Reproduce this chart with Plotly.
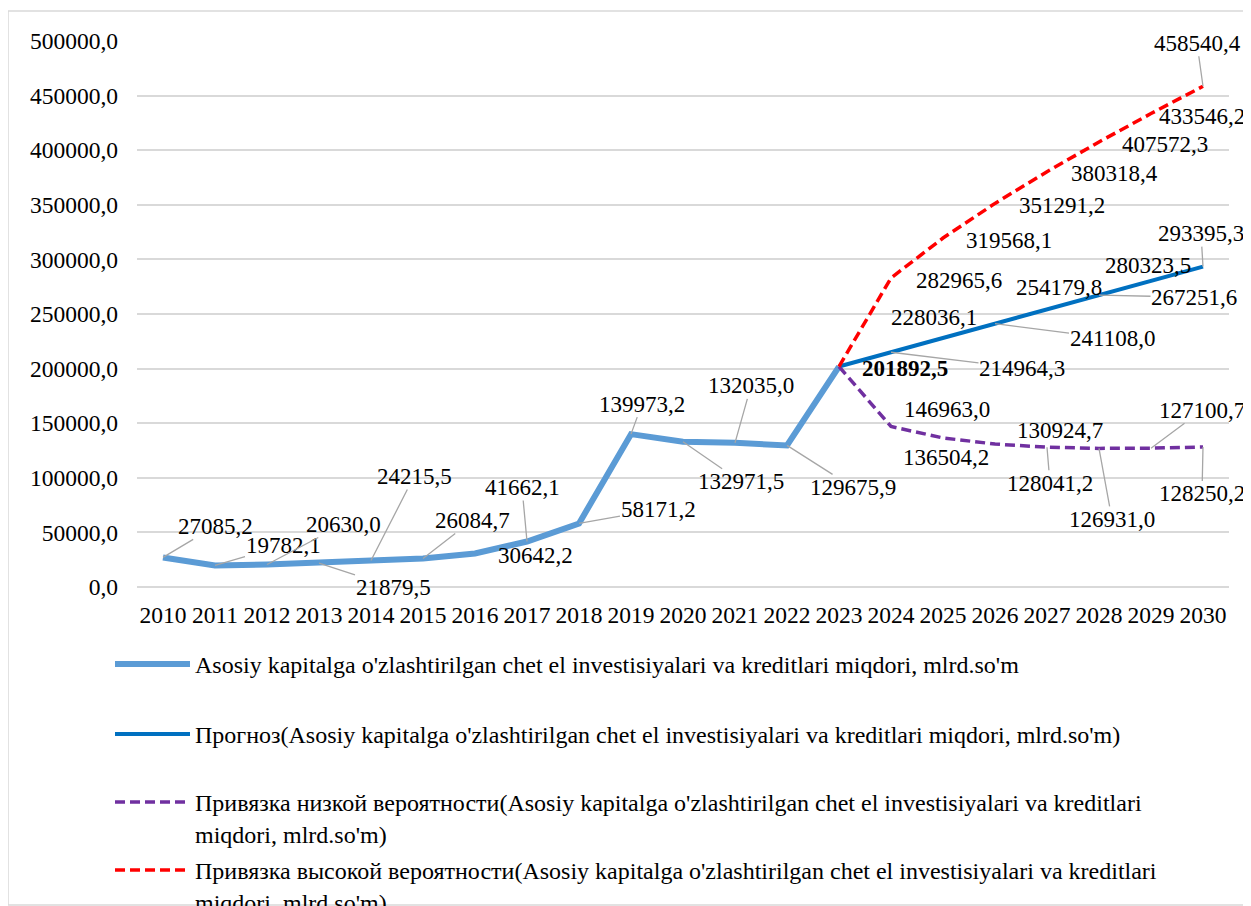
import plotly.graph_objects as go

# ---------------- data ----------------
years_hist = [2010, 2011, 2012, 2013, 2014, 2015, 2016, 2017, 2018, 2019, 2020, 2021, 2022, 2023]
hist = [27085.2, 19782.1, 20630.0, 21879.5, 24215.5, 26084.7, 30642.2, 41662.1,
        58171.2, 139973.2, 132971.5, 132035.0, 129675.9, 201892.5]
years_fc = [2023, 2024, 2025, 2026, 2027, 2028, 2029, 2030]
forecast = [201892.5, 214964.3, 228036.1, 241108.0, 254179.8, 267251.6, 280323.5, 293395.3]
low = [201892.5, 146963.0, 136504.2, 130924.7, 128041.2, 126931.0, 127100.7, 128250.2]
high = [201892.5, 282965.6, 319568.1, 351291.2, 380318.4, 407572.3, 433546.2, 458540.4]
year_ticks = list(range(2010, 2031))
y_ticks = [0, 50000, 100000, 150000, 200000, 250000, 300000, 350000, 400000, 450000, 500000]

name_hist = "Asosiy kapitalga o'zlashtirilgan chet el investisiyalari va kreditlari miqdori, mlrd.so'm"
name_fc = "Прогноз(Asosiy kapitalga o'zlashtirilgan chet el investisiyalari va kreditlari miqdori, mlrd.so'm)"
name_low = "Привязка низкой вероятности(Asosiy kapitalga o'zlashtirilgan chet el investisiyalari va kreditlari<br>miqdori, mlrd.so'm)"
name_high = "Привязка высокой вероятности(Asosiy kapitalga o'zlashtirilgan chet el investisiyalari va kreditlari<br>miqdori, mlrd.so'm)"

# ---------------- label placement (pixel offsets, leader line flag) ----------------
off_hist = [(52, -31, True), (68, -20, True), (76, -40, True), (74, 24, True), (43, -84, True),
            (49, -38, True), (60, 2, False), (-5, -54, True), (79, -14, True), (11, -30, True),
            (58, 40, True), (16, -57, True), (66, 42, True), (66, 2, False)]
off_fc = [None, (131, 16, True), (-9, -20, False), (117, 15, True), (12, -22, False),
          (95, 2, True), (-3, -15, False), (-2, -33, True)]
off_low = [None, (56, -17, False), (3, 20, False), (65, -14, False), (3, 36, True),
           (13, 71, True), (51, -38, True), (-1, 47, True)]
off_high = [None, (68, 2, False), (66, 2, False), (67, 2, False), (67, 2, False),
            (66, 3, False), (51, 3, False), (-6, -43, True)]

FONT = "Liberation Serif"
FS_TICK = 23.5
FS_LBL = 23
FS_LEG = 24
C_HIST = "#5B9BD5"
C_FC = "#0070C0"
C_LOW = "#7030A0"
C_HIGH = "#FF0000"
GRID = "#D9D9D9"
LEADER = "#A6A6A6"


def fmt(v):
    return f"{v:.1f}".replace(".", ",")


fig = go.Figure()
fig.add_trace(go.Scatter(x=years_hist, y=hist, mode="lines", name=name_hist,
                         line=dict(color=C_HIST, width=6), legend="legend"))
fig.add_trace(go.Scatter(x=years_fc, y=forecast, mode="lines", name=name_fc,
                         line=dict(color=C_FC, width=4), legend="legend2"))
fig.add_trace(go.Scatter(x=years_fc, y=low, mode="lines", name=name_low,
                         line=dict(color=C_LOW, width=3.5, dash="10px,5px"), legend="legend3"))
fig.add_trace(go.Scatter(x=years_fc, y=high, mode="lines", name=name_high,
                         line=dict(color=C_HIGH, width=3.5, dash="10px,5px"), legend="legend4"))

annotations = []


def add_labels(xs, ys, offs, bold_last=False):
    for i, (xv, yv, off) in enumerate(zip(xs, ys, offs)):
        if off is None:
            continue
        ax, ay, leader = off
        txt = fmt(yv)
        if bold_last and i == len(xs) - 1:
            txt = "<b>" + txt + "</b>"
        annotations.append(dict(
            x=xv, y=yv, xref="x", yref="y", text=txt,
            showarrow=True, arrowhead=0, arrowwidth=1.3,
            arrowcolor=LEADER if leader else "rgba(0,0,0,0)",
            ax=ax, ay=ay, standoff=0, borderpad=0,
            font=dict(family=FONT, size=FS_LBL, color="black"),
        ))


add_labels(years_hist, hist, off_hist, bold_last=True)
add_labels(years_fc, forecast, off_fc)
add_labels(years_fc, low, off_low)
add_labels(years_fc, high, off_high)

# page has an 8px body margin; figure coordinates = page coordinates - 8
W, H = 1243, 898
L, R, T, B = 129, 1221, 33, 579
pw, ph = R - L, B - T
OFF = 8


def px_x(p):  # page pixel -> paper x
    return (p - OFF - L) / pw


def px_y(p):  # page pixel -> paper y
    return (B + OFF - p) / ph


legend_common = dict(font=dict(family=FONT, size=FS_LEG, color="black"), bgcolor="rgba(0,0,0,0)",
                     xanchor="left", yanchor="top", itemwidth=75, valign="top",
                     itemclick=False, itemdoubleclick=False)

fig.update_layout(
    width=W, height=H,
    margin=dict(l=L, r=W - R, t=T, b=H - B, autoexpand=False),
    paper_bgcolor="white", plot_bgcolor="white",
    separators=",.",
    font=dict(family=FONT, color="black"),
    showlegend=True,
    legend=dict(x=px_x(110), y=px_y(642), **legend_common),
    legend2=dict(x=px_x(110), y=px_y(712), **legend_common),
    legend3=dict(x=px_x(110), y=px_y(780), **legend_common),
    legend4=dict(x=px_x(110), y=px_y(848), **legend_common),
    annotations=annotations,
    shapes=[dict(type="rect", xref="paper", yref="paper",
                 x0=px_x(8), x1=px_x(1270), y0=px_y(905), y1=px_y(11),
                 line=dict(color=GRID, width=1.5), fillcolor="rgba(0,0,0,0)", layer="below")],
    xaxis=dict(range=[2009.5, 2030.5], tickmode="array", tickvals=year_ticks,
               ticktext=[str(y) for y in year_ticks], showgrid=False, zeroline=False,
               showline=False, ticks="", ticklabelstandoff=11, automargin=False,
               tickfont=dict(family=FONT, size=FS_TICK, color="black"), fixedrange=True),
    yaxis=dict(range=[0, 500000], tickmode="array", tickvals=y_ticks, tickformat=".1f",
               showgrid=True, gridcolor=GRID, gridwidth=1.5, zeroline=True, zerolinecolor=GRID,
               zerolinewidth=1.5, showline=False, ticks="", ticklabelstandoff=18, automargin=False,
               tickfont=dict(family=FONT, size=FS_TICK, color="black"), fixedrange=True),
)

fig.write_html("out.html")
